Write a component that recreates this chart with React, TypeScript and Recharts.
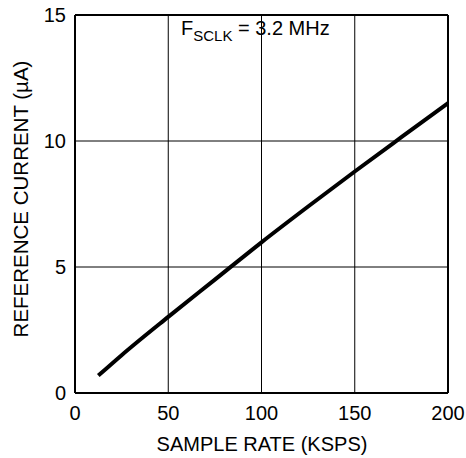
import { LineChart, Line, XAxis, YAxis, CartesianGrid, ReferenceLine } from "recharts";

// sample rate (KSPS) vs reference current (uA)
const sampleRate = [12.5, 25, 50, 75, 100, 125, 150, 175, 200];
const refCurrent = [0.69, 1.5, 3.02, 4.5, 5.98, 7.4, 8.79, 10.15, 11.5];
const xTicks = [0, 50, 100, 150, 200];
const yTicks = [0, 5, 10, 15];

const data = sampleRate.map((x, i) => ({ x, y: refCurrent[i] }));

const FONT = "'Liberation Sans', Arial, sans-serif";

export default function App() {
  return (
    <div style={{ position: "absolute", left: 0, top: 0, width: 466, height: 458, background: "#fff", fontFamily: FONT }}>
      <LineChart width={466} height={458} data={data} margin={{ top: 15, right: 18, left: 30, bottom: 25 }}>
        <CartesianGrid stroke="#000" strokeWidth={1} />
        <XAxis
          dataKey="x"
          type="number"
          domain={[0, 200]}
          ticks={xTicks}
          height={40}
          tickSize={0}
          tickMargin={13}
          axisLine={{ stroke: "#000", strokeWidth: 2 }}
          tick={{ fill: "#000", fontSize: 20, fontFamily: FONT }}
        />
        <YAxis
          type="number"
          domain={[0, 15]}
          ticks={yTicks}
          width={45}
          tickSize={0}
          tickMargin={9}
          axisLine={{ stroke: "#000", strokeWidth: 2 }}
          tick={{ fill: "#000", fontSize: 20, fontFamily: FONT }}
        />
        <ReferenceLine y={15} stroke="#000" strokeWidth={2} />
        <ReferenceLine x={200} stroke="#000" strokeWidth={2} />
        <Line
          dataKey="y"
          type="monotone"
          stroke="#000"
          strokeWidth={4}
          dot={false}
          isAnimationActive={false}
        />
      </LineChart>
      <svg width={466} height={458} style={{ position: "absolute", left: 0, top: 0, pointerEvents: "none" }}>
        <text x={181} y={35} fontSize={20} fontFamily={FONT} fill="#000">
          F<tspan fontSize={15} dy={6}>SCLK</tspan>
          <tspan dy={-6}> = 3.2 MHz</tspan>
        </text>
        <text x={262} y={451} fontSize={20} fontFamily={FONT} fill="#000" textAnchor="middle">
          SAMPLE RATE (KSPS)
        </text>
        <text
          x={28}
          y={199}
          fontSize={20.5}
          fontFamily={FONT}
          fill="#000"
          textAnchor="middle"
          transform="rotate(-90, 28, 199)"
        >
          REFERENCE CURRENT (µA)
        </text>
      </svg>
    </div>
  );
}
